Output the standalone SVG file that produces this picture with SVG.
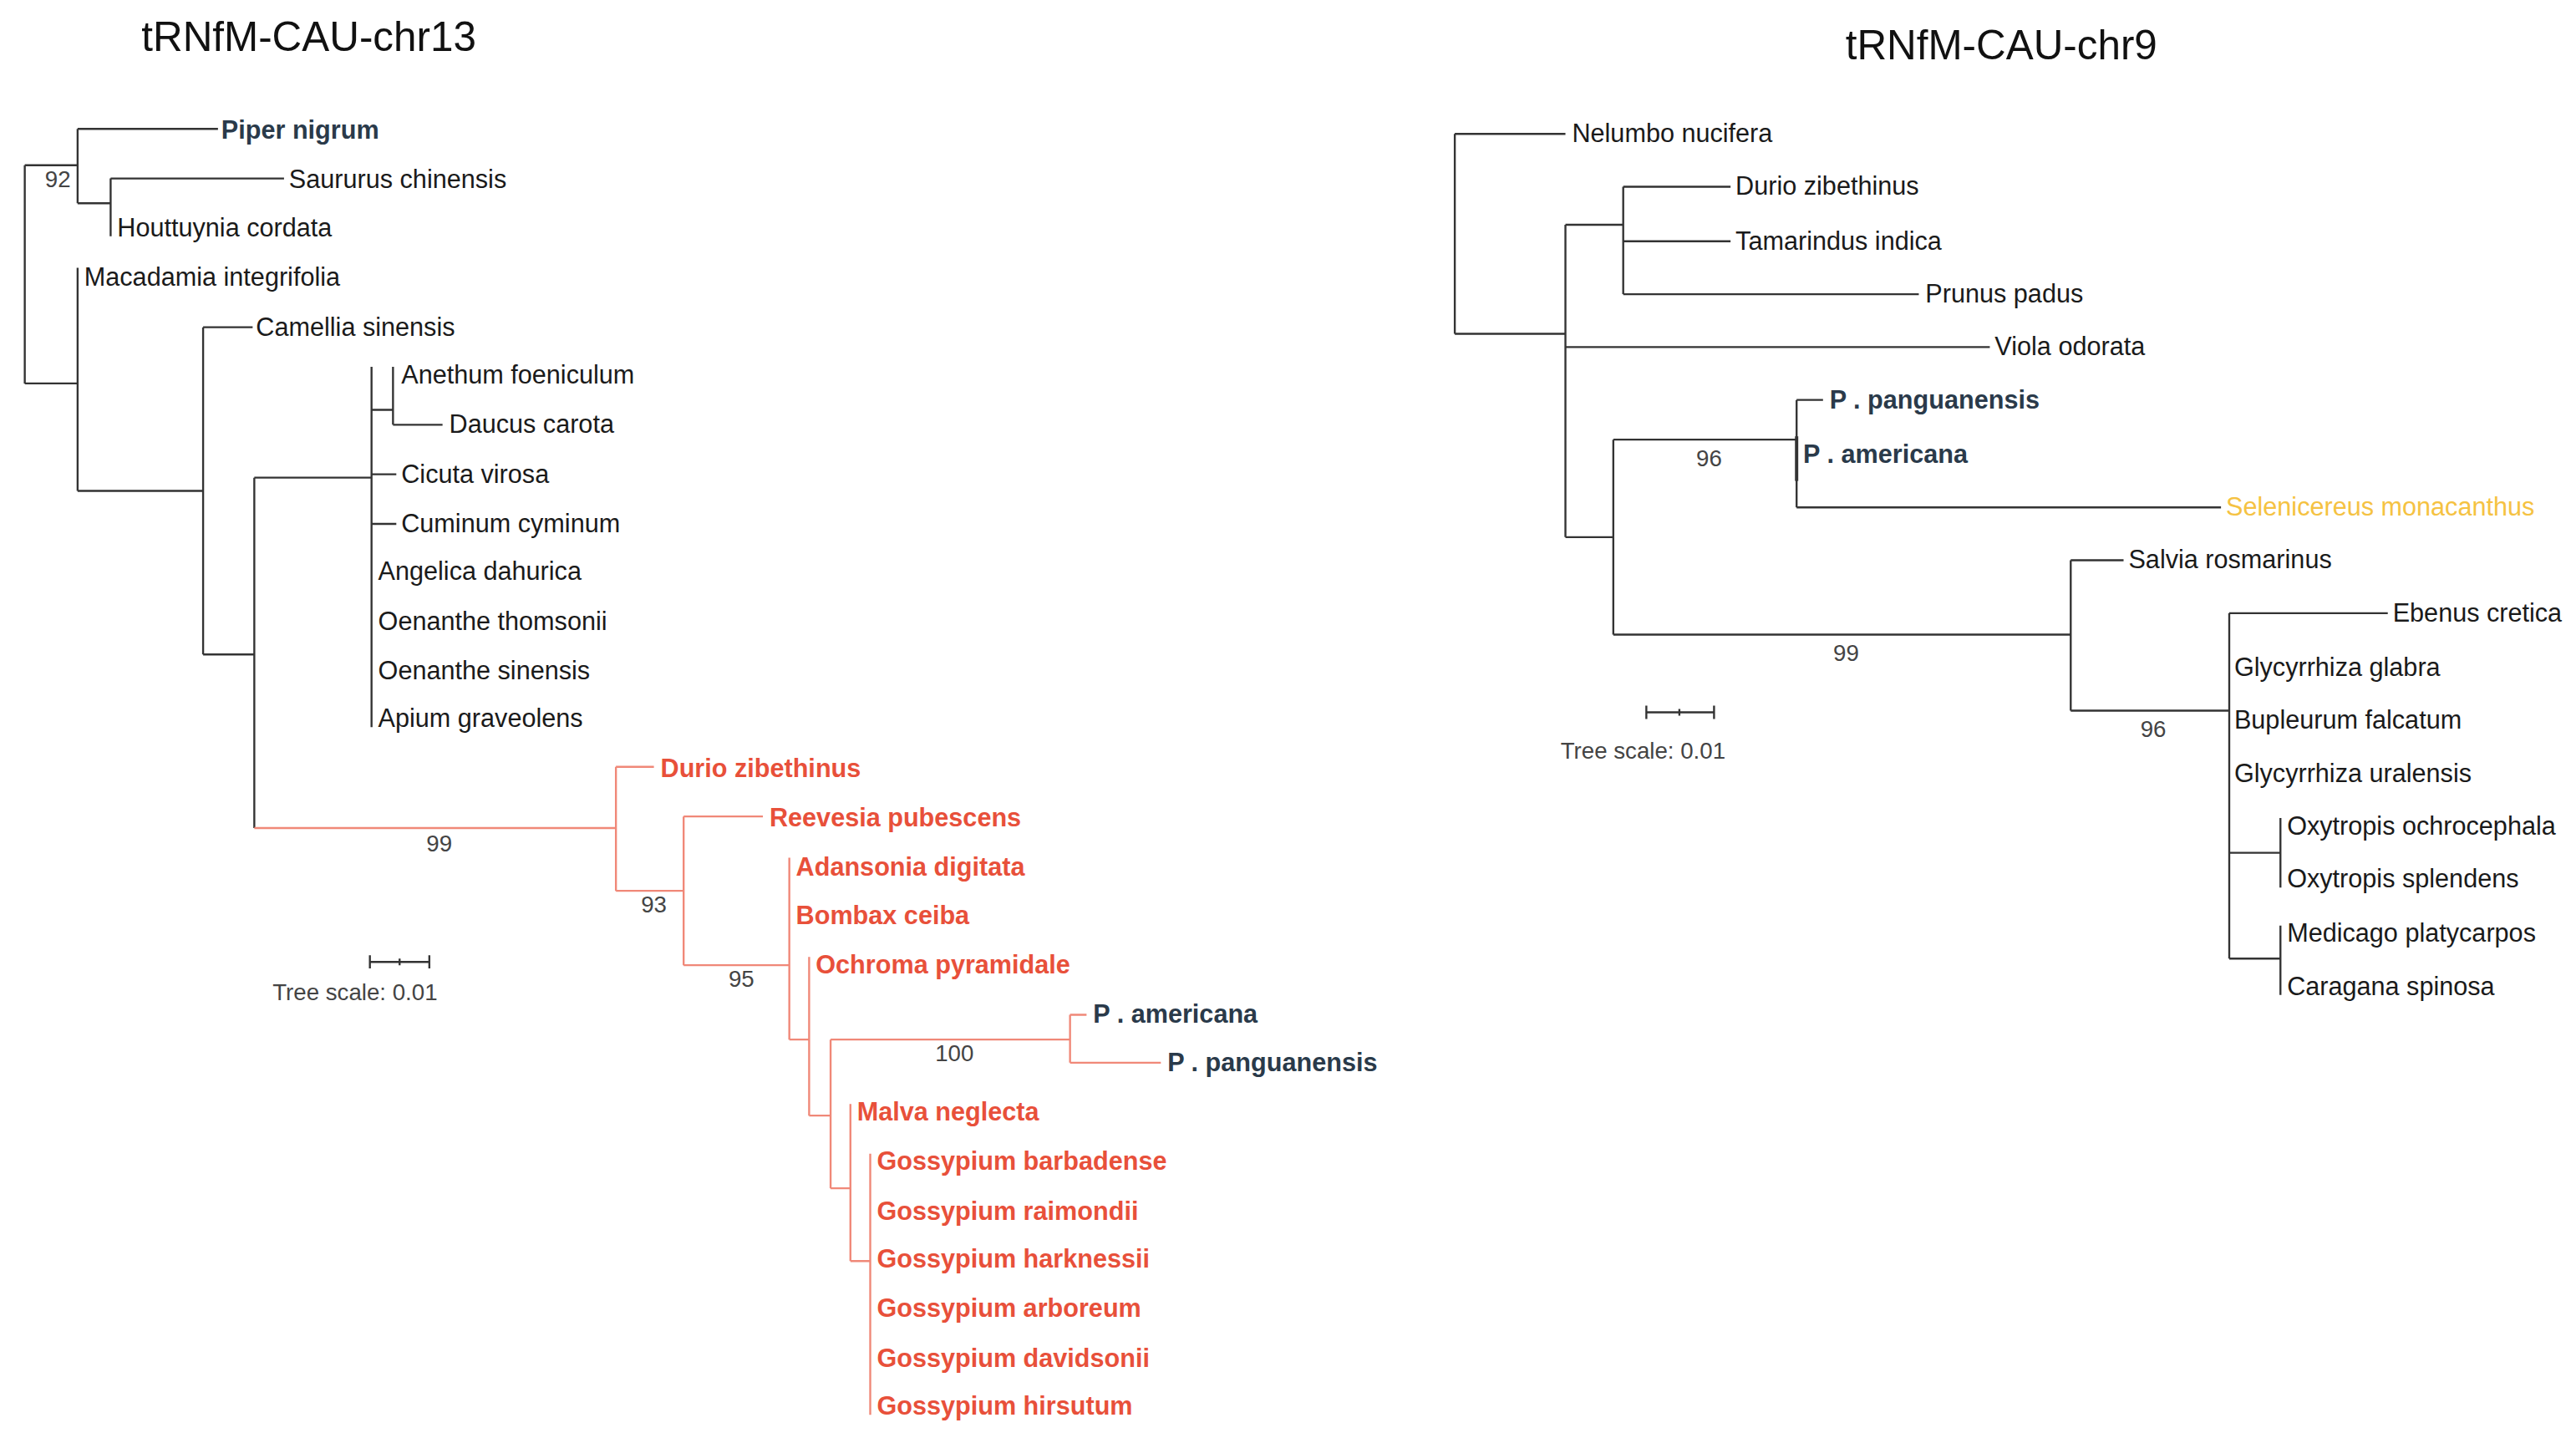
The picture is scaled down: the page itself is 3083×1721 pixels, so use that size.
<svg xmlns="http://www.w3.org/2000/svg" width="3083" height="1721" viewBox="0 0 3083 1721">
<style>
text{font-family:"Liberation Sans",Arial,sans-serif;font-size:15.5px;fill:#1a1a1a}
.t{font-size:25px;fill:#111}
.b{font-weight:bold;fill:#2a3a4a}
.r{font-weight:bold;fill:#e8503a}
.y{fill:#f5c242}
.n{font-size:14px;fill:#444;text-anchor:middle}
.k path{stroke:#333;stroke-width:1.2;fill:none}
.k path.red{stroke:#f08878}
</style>
<rect width="3083" height="1721" fill="#fff"/>
<g transform="scale(1.9763,1.978)">
<text class="t" x="187" y="31" text-anchor="middle">tRNfM-CAU-chr13</text>
<text class="t" x="1212" y="36" text-anchor="middle">tRNfM-CAU-chr9</text>
<g id="connectors" class="k">
<path d="M15,100V232M15,100H47M15,232H47M47,78V123M47,78H132M47,123H67M67,108V143M67,108H172"/>
<path d="M47,162V297M47,297H123M123,198V396M123,198H153M123,396H154M154,289V501M154,289H225M225,222V440M225,248H238M238,222V257M238,257H268M225,287H240M225,317H240"/>
<path class="red" d="M154,501H373M373,464V539M373,464H396M373,539H414M414,494V584M414,494H462M414,584H478M478,519V629M478,629H490M490,579V675M490,675H503M503,629V719M503,629H648M648,614V643M648,614H658M648,643H703M503,719H515M515,668V763M515,763H527M527,698V856"/>
<path d="M224,582H260M224,578V586M260,578V586M242,580V584"/>
<path d="M881,81V202M881,81H948M881,202H948M948,136V325M948,136H983M983,113V178M983,113H1048M983,146H1048M983,178H1162M948,210H1205M948,325H977M977,266V384M977,266H1088M1088,242V307M1088,242H1104M1088,307H1345M977,384H1254M1254,339V430M1254,339H1286M1254,430H1350M1350,371V580M1350,371H1446M1350,516H1381M1381,495V537M1350,580H1381M1381,560V602"/>
<path d="M1088,264V291" style="stroke-width:2"/>
<path d="M997,431H1038M997,427V435M1038,427V435M1017,429V433"/>
</g>
<g id="left-labels">
<text class="b" x="134" y="84">Piper nigrum</text>
<text x="175" y="114">Saururus chinensis</text>
<text x="71" y="143">Houttuynia cordata</text>
<text x="51" y="173">Macadamia integrifolia</text>
<text x="155" y="203">Camellia sinensis</text>
<text x="243" y="232">Anethum foeniculum</text>
<text x="272" y="262">Daucus carota</text>
<text x="243" y="292">Cicuta virosa</text>
<text x="243" y="322">Cuminum cyminum</text>
<text x="229" y="351">Angelica dahurica</text>
<text x="229" y="381">Oenanthe thomsonii</text>
<text x="229" y="411">Oenanthe sinensis</text>
<text x="229" y="440">Apium graveolens</text>
<text class="r" x="400" y="470">Durio zibethinus</text>
<text class="r" x="466" y="500">Reevesia pubescens</text>
<text class="r" x="482" y="530">Adansonia digitata</text>
<text class="r" x="482" y="559">Bombax ceiba</text>
<text class="r" x="494" y="589">Ochroma pyramidale</text>
<text class="b" x="662" y="619">P . americana</text>
<text class="b" x="707" y="648">P . panguanensis</text>
<text class="r" x="519" y="678">Malva neglecta</text>
<text class="r" x="531" y="708">Gossypium barbadense</text>
<text class="r" x="531" y="738">Gossypium raimondii</text>
<text class="r" x="531" y="767">Gossypium harknessii</text>
<text class="r" x="531" y="797">Gossypium arboreum</text>
<text class="r" x="531" y="827">Gossypium davidsonii</text>
<text class="r" x="531" y="856">Gossypium hirsutum</text>
<text class="n" x="35" y="113">92</text>
<text class="n" x="266" y="515">99</text>
<text class="n" x="396" y="552">93</text>
<text class="n" x="449" y="597">95</text>
<text class="n" x="578" y="642">100</text>
<text class="n" x="215" y="605">Tree scale: 0.01</text>
</g>
<g id="right-labels">
<text x="952" y="86">Nelumbo nucifera</text>
<text x="1051" y="118">Durio zibethinus</text>
<text x="1051" y="151">Tamarindus indica</text>
<text x="1166" y="183">Prunus padus</text>
<text x="1208" y="215">Viola odorata</text>
<text class="b" x="1108" y="247">P . panguanensis</text>
<text class="b" x="1092" y="280">P . americana</text>
<text class="y" x="1348" y="312">Selenicereus monacanthus</text>
<text x="1289" y="344">Salvia rosmarinus</text>
<text x="1449" y="376">Ebenus cretica</text>
<text x="1353" y="409">Glycyrrhiza glabra</text>
<text x="1353" y="441">Bupleurum falcatum</text>
<text x="1353" y="473">Glycyrrhiza uralensis</text>
<text x="1385" y="505">Oxytropis ochrocephala</text>
<text x="1385" y="537">Oxytropis splendens</text>
<text x="1385" y="570">Medicago platycarpos</text>
<text x="1385" y="602">Caragana spinosa</text>
<text class="n" x="1035" y="282">96</text>
<text class="n" x="1118" y="400">99</text>
<text class="n" x="1304" y="446">96</text>
<text class="n" x="995" y="459">Tree scale: 0.01</text>
</g>
</g>
</svg>
